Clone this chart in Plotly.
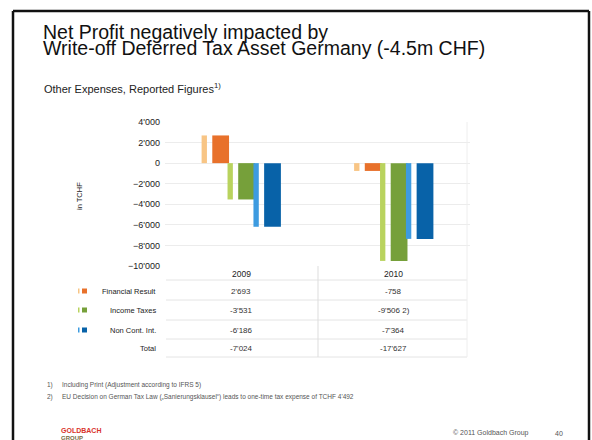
import plotly.graph_objects as go

# ---- data ----
years = ["2009", "2010"]
series_names = ["Financial Result", "Income Taxes", "Non Cont. Int."]
financial_result = [2693, -758]
income_taxes = [-3531, -9506]
non_cont_int = [-6186, -7364]
totals = [-7024, -17627]
table_notes = {("Income Taxes", "2010"): " 2)"}
y_tick_vals = [4000, 2000, 0, -2000, -4000, -6000, -8000, -10000]

series_values = [financial_result, income_taxes, non_cont_int]
main_colors = ["#e8712b", "#76a03a", "#0862a8"]
light_colors = ["#f8c585", "#b9d35e", "#3d9be0"]

# plot area in pixels
W, H = 592, 440
PL, PR, PT, PB = 165, 470, 122, 266


def xp(px):
    return (px - PL) / (PR - PL)


def yp(py):
    return (PB - py) / (PB - PT)


def fmt(v):
    return f"{v:,}".replace(",", "'")


FONT = "Liberation Sans, Arial, sans-serif"

fig = go.Figure()
centers = [-0.17, 0.0, 0.17]
for name, vals, c, mc, lc in zip(series_names, series_values, centers, main_colors, light_colors):
    fig.add_trace(go.Bar(x=years, y=vals, name=name + " (shade)", marker=dict(color=lc, line=dict(width=0)),
                         offset=c - 0.09, width=0.035, showlegend=False, hoverinfo="skip"))
    fig.add_trace(go.Bar(x=years, y=vals, name=name, marker=dict(color=mc, line=dict(width=0)),
                         offset=c - 0.02, width=0.11, showlegend=False))

shapes = []
# slide frame (drawn as separate lines)
frame = dict(color="#111111", width=2.5)
shapes.append(dict(type="line", xref="paper", yref="paper", x0=xp(13), x1=xp(589), y0=yp(11), y1=yp(11), line=frame))
shapes.append(dict(type="line", xref="paper", yref="paper", x0=xp(13), x1=xp(13), y0=yp(11), y1=yp(445), line=frame))
shapes.append(dict(type="line", xref="paper", yref="paper", x0=xp(589), x1=xp(589), y0=yp(11), y1=yp(445), line=frame))
# table lines
for ry in [280, 300, 320, 339, 357]:
    shapes.append(dict(type="line", xref="paper", yref="paper", x0=xp(166), x1=xp(467), y0=yp(ry), y1=yp(ry),
                       line=dict(color="#e4e4e4", width=1)))
shapes.append(dict(type="line", xref="paper", yref="paper", x0=xp(318), x1=xp(318), y0=yp(266), y1=yp(357),
                   line=dict(color="#dddddd", width=1)))
shapes.append(dict(type="line", xref="paper", yref="paper", x0=xp(467), x1=xp(467), y0=yp(122), y1=yp(357),
                   line=dict(color="#eeeeee", width=1)))


def note(text, px, py, size, color="#222222", anchor="left", **kw):
    return dict(text=text, xref="paper", yref="paper", x=xp(px), y=yp(py), xanchor=anchor, yanchor="middle",
                showarrow=False, font=dict(family=FONT, size=size, color=color), **kw)


annotations = []
# title
annotations.append(note("Net Profit negatively impacted by", 41, 32, 19.5, "#111111"))
annotations.append(note("Write-off Deferred Tax Asset Germany (-4.5m CHF)", 41, 47.5, 19.5, "#111111"))
annotations.append(note("Other Expenses, Reported Figures<sup>1)</sup>", 42, 88, 11))
# axis title
annotations.append(note("in TCHF", 79, 196, 7.5, anchor="center", textangle=-90))

# table header and values (column centres follow the category positions)
row_y = [291, 310, 330, 348]
n_cat = len(years)
for j, yr in enumerate(years):
    cx = PL + (j + 0.5) / n_cat * (PR - PL)
    annotations.append(note(yr, cx, 274, 8.5, anchor="center"))
    for i, (name, vals) in enumerate(zip(series_names, series_values)):
        extra = table_notes.get((name, yr), "")
        annotations.append(note(fmt(vals[j]) + extra, cx, row_y[i], 8, "#333333", anchor="center"))
    annotations.append(note(fmt(totals[j]), cx, row_y[3], 8, "#333333", anchor="center"))

# table row labels with legend keys
for i, name in enumerate(series_names + ["Total"]):
    annotations.append(note(name, 158, row_y[i], 7.5, anchor="right"))
for i in range(3):
    ry = row_y[i]
    shapes.append(dict(type="rect", xref="paper", yref="paper", x0=xp(78), x1=xp(79.5), y0=yp(ry + 2.5),
                       y1=yp(ry - 2.5), fillcolor=light_colors[i], line=dict(width=0)))
    shapes.append(dict(type="rect", xref="paper", yref="paper", x0=xp(82), x1=xp(87), y0=yp(ry + 2.5),
                       y1=yp(ry - 2.5), fillcolor=main_colors[i], line=dict(width=0)))

# footnotes
annotations.append(note("1)", 45, 385, 6.5, "#555555"))
annotations.append(note("Including Print (Adjustment according to IFRS 5)", 60, 385, 6.5, "#555555"))
annotations.append(note("2)", 45, 397, 6.5, "#555555"))
annotations.append(note("EU Decision on German Tax Law („Sanierungsklausel“) leads to one-time tax expense of TCHF 4'492",
                        60, 397, 6.5, "#555555"))
# footer
annotations.append(note("<b>GOLDBACH</b>", 59, 430, 7, "#d9332b"))
annotations.append(note("<b>GROUP</b>", 59, 437.5, 6, "#7a6a40"))
annotations.append(note("© 2011 Goldbach Group", 531, 433, 7, "#555555", anchor="right"))
annotations.append(note("40", 559, 433, 7, "#555555", anchor="center"))

fig.update_layout(
    width=W, height=H,
    margin=dict(l=PL, r=W - PR, t=PT, b=H - PB, pad=0),
    paper_bgcolor="white", plot_bgcolor="white",
    barmode="overlay",
    separators=".'",
    showlegend=False,
    shapes=shapes,
    annotations=annotations,
    xaxis=dict(type="category", range=[-0.5, 1.5], showticklabels=False, showgrid=False, zeroline=False,
               showline=False, ticks=""),
    yaxis=dict(range=[-10000, 4000], tickvals=y_tick_vals, tickformat=",d", showgrid=True,
               gridcolor="#ececec", gridwidth=1, zeroline=False, showline=False, ticks="",
               tickfont=dict(family=FONT, size=9, color="#222222"), ticklabelstandoff=4),
)

fig.write_html("out.html", config={"displayModeBar": False},
               post_script="document.body.style.margin='0';document.body.style.overflow='hidden';")
